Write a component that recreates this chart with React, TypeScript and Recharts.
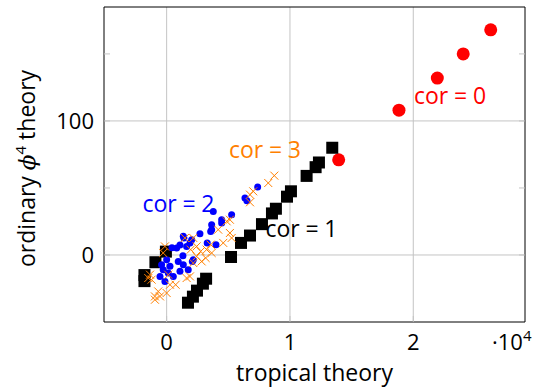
import { CartesianGrid, ReferenceDot, Scatter, ScatterChart, XAxis, YAxis } from "recharts";

const FONT = "'Open Sans', sans-serif";

// cor = 0 (red circles)
const cor0 = [
  { x: 13950, y: 71 },
  { x: 18840, y: 108 },
  { x: 21950, y: 132 },
  { x: 24050, y: 150 },
  { x: 26280, y: 168 },
];

// cor = 1 (black squares)
const cor1 = [
  { x: 13430, y: 80 },
  { x: 12350, y: 69 },
  { x: 12080, y: 65.5 },
  { x: 11350, y: 59 },
  { x: 10080, y: 47.5 },
  { x: 9760, y: 43.5 },
  { x: 8860, y: 34.5 },
  { x: 8540, y: 31 },
  { x: 7730, y: 23 },
  { x: 6760, y: 14.5 },
  { x: 6030, y: 9 },
  { x: 5220, y: -1.5 },
  { x: -60, y: 2.5 },
  { x: -910, y: -5.4 },
  { x: -1800, y: -15 },
  { x: -1800, y: -19.5 },
  { x: 3200, y: -17.7 },
  { x: 2940, y: -21.4 },
  { x: 2460, y: -26.6 },
  { x: 2130, y: -31.1 },
  { x: 1730, y: -35.6 },
];

// cor = 2 (blue dots)
const cor2 = [
  { x: 7380, y: 50.7 },
  { x: 6350, y: 42.5 },
  { x: 6510, y: 40.5 },
  { x: 3780, y: 32.5 },
  { x: 5270, y: 30.1 },
  { x: 4460, y: 26.3 },
  { x: 4460, y: 23.9 },
  { x: 3650, y: 22.6 },
  { x: 3650, y: 18.9 },
  { x: 2700, y: 15.9 },
  { x: 2030, y: 11.4 },
  { x: 3290, y: 9 },
  { x: 4000, y: 7.7 },
  { x: 1350, y: 13.9 },
  { x: 3570, y: 17.6 },
  { x: 1890, y: 9 },
  { x: 810, y: 5.2 },
  { x: 940, y: -4.8 },
  { x: 0, y: -3.5 },
  { x: -410, y: -7.2 },
  { x: -280, y: -11 },
  { x: 130, y: -13.4 },
  { x: 540, y: -16 },
  { x: 1080, y: -12.2 },
  { x: 1350, y: -7.2 },
  { x: 270, y: -8.5 },
  { x: -540, y: -16 },
  { x: -140, y: -19.7 },
  { x: 1750, y: -11 },
  { x: 2160, y: -3.5 },
  { x: 1400, y: 12.7 },
  { x: 2080, y: -4.8 },
  { x: 430, y: 5.4 },
  { x: 1080, y: 7.5 },
  { x: 1620, y: 6.4 },
  { x: 1320, y: -0.5 },
];

// cor = 3 (orange crosses)
const cor3 = [
  { x: 8730, y: 59.2 },
  { x: 8240, y: 53.7 },
  { x: 7020, y: 47.5 },
  { x: 6760, y: 45 },
  { x: 6760, y: 39.3 },
  { x: 5130, y: 26.3 },
  { x: 4870, y: 25.1 },
  { x: 4180, y: 18.9 },
  { x: 5130, y: 16.4 },
  { x: 5270, y: 12.7 },
  { x: 2160, y: 12.7 },
  { x: 1480, y: 12.7 },
  { x: 2430, y: 6.4 },
  { x: 4590, y: 9 },
  { x: 3240, y: 4 },
  { x: 3650, y: 1.5 },
  { x: 2430, y: -1 },
  { x: 2840, y: -4.8 },
  { x: 2160, y: -6 },
  { x: -140, y: 6.4 },
  { x: -280, y: 1.5 },
  { x: -1350, y: -14.7 },
  { x: -1220, y: -18.4 },
  { x: -1490, y: -17.2 },
  { x: 130, y: -14.7 },
  { x: 1890, y: -16 },
  { x: 1620, y: -17.2 },
  { x: 270, y: -22.2 },
  { x: -680, y: -27.2 },
  { x: 0, y: -28.4 },
  { x: -950, y: -30.9 },
  { x: -540, y: -30.9 },
  { x: -950, y: -33.4 },
  { x: 3570, y: 7.7 },
  { x: 2760, y: 2.7 },
  { x: 1950, y: 4 },
  { x: 3160, y: -2.2 },
  { x: 730, y: -22.2 },
];

const seriesLabels = [
  { text: "cor\u2005=\u20050", x: 22980, y: 118.9, color: "#ff0000" },
  { text: "cor\u2005=\u20051", x: 10930, y: 19.3, color: "#000000" },
  { text: "cor\u2005=\u20052", x: 960, y: 38.3, color: "#0000ff" },
  { text: "cor\u2005=\u20053", x: 7970, y: 78.6, color: "#ff8000" },
];

const xTicks = [0, 10000, 20000];
const yTicks = [0, 50, 100, 150];
const yLabelled = [0, 100];
const xDomain = [-5080, 29060];
const yDomain = [-50, 185];

const GRID = "#c4c4c4";

const redDot = (p: any) => <circle cx={p.cx} cy={p.cy} r={6.5} fill="#ff0000" />;
const blackSquare = (p: any) => <rect x={p.cx - 6} y={p.cy - 6} width={12} height={12} fill="#000" />;
const blueDot = (p: any) => <circle cx={p.cx} cy={p.cy} r={3.5} fill="#0000ff" />;
const orangeCross = (p: any) => (
  <path
    d={`M${p.cx - 4},${p.cy - 4}L${p.cx + 4},${p.cy + 4}M${p.cx - 4},${p.cy + 4}L${p.cx + 4},${p.cy - 4}`}
    stroke="#ff8000"
    strokeWidth={1}
    fill="none"
  />
);

function XTick({ x, y, payload }: any) {
  return (
    <g>
      <line x1={x} x2={x} y1={y} y2={y - 6} stroke={GRID} />
      <text x={x} y={y + 28} textAnchor="middle" fontSize={22} fontFamily={FONT} fill="#000">
        {payload.value / 10000}
      </text>
    </g>
  );
}

function YTick({ x, y, payload }: any) {
  return (
    <g>
      <line x1={x} x2={x + 6} y1={y} y2={y} stroke={GRID} />
      {yLabelled.includes(payload.value) && (
        <text x={x - 10} y={y} dy="0.36em" textAnchor="end" fontSize={22} fontFamily={FONT} fill="#000">
          {payload.value}
        </text>
      )}
    </g>
  );
}

function RightTick({ x, y }: any) {
  return <line x1={x - 6} x2={x} y1={y} y2={y} stroke={GRID} />;
}

function XLabel({ viewBox }: any) {
  const { x, y, width } = viewBox;
  return (
    <g fontFamily={FONT} fill="#000">
      <text x={x + width / 2} y={y + 59} textAnchor="middle" fontSize={23}>
        tropical theory
      </text>
      <text x={x + width - 33} y={y + 28} fontSize={22}>
        ·10
        <tspan dy={-9} fontSize={15}>
          4
        </tspan>
      </text>
    </g>
  );
}

function YLabel({ viewBox }: any) {
  const { x, y, height } = viewBox;
  const cx = x + 27;
  const cy = y + height / 2 + 4;
  return (
    <text
      x={cx}
      y={cy}
      dy="0.36em"
      transform={`rotate(-90 ${cx} ${cy})`}
      textAnchor="middle"
      fontSize={23}
      fontFamily={FONT}
      fill="#000"
    >
      ordinary{" "}
      <tspan fontStyle="italic" fontFamily="'DejaVu Serif', serif">
        ϕ
      </tspan>
      <tspan dy={-9} fontSize={15}>
        4
      </tspan>
      <tspan dy={9}> theory</tspan>
    </text>
  );
}

export default function App() {
  return (
    <div style={{ position: "absolute", left: 0, top: 0, background: "#fff" }}>
      <ScatterChart width={539} height={389} margin={{ top: 0, right: 0, left: 0, bottom: 0 }}>
        <CartesianGrid stroke={GRID} horizontalValues={[0, 100]} verticalValues={xTicks} />
        <XAxis
          type="number"
          dataKey="x"
          domain={xDomain}
          ticks={xTicks}
          allowDataOverflow
          height={67}
          tickSize={0}
          tickMargin={0}
          tickLine={false}
          tick={<XTick />}
          axisLine={{ stroke: "#000" }}
          label={<XLabel />}
        />
        <XAxis
          xAxisId="top"
          orientation="top"
          type="number"
          domain={xDomain}
          ticks={xTicks}
          allowDataOverflow
          height={7}
          tick={false}
          tickLine={false}
          axisLine={{ stroke: "#000" }}
        />
        <YAxis
          type="number"
          dataKey="y"
          domain={yDomain}
          ticks={yTicks}
          allowDataOverflow
          width={104}
          tickSize={0}
          tickMargin={0}
          tickLine={false}
          tick={<YTick />}
          axisLine={{ stroke: "#000" }}
          label={<YLabel />}
        />
        <YAxis
          yAxisId="right"
          orientation="right"
          type="number"
          domain={yDomain}
          ticks={yTicks}
          allowDataOverflow
          width={14}
          tickSize={0}
          tickMargin={0}
          tickLine={false}
          tick={<RightTick />}
          axisLine={{ stroke: "#000" }}
        />
        <Scatter data={cor0} shape={redDot} isAnimationActive={false} />
        <Scatter data={cor1} shape={blackSquare} isAnimationActive={false} />
        <Scatter data={cor2} shape={blueDot} isAnimationActive={false} />
        <Scatter data={cor3} shape={orangeCross} isAnimationActive={false} />
        {seriesLabels.map((l) => (
          <ReferenceDot
            key={l.text}
            x={l.x}
            y={l.y}
            r={1}
            fill="none"
            stroke="none"
            label={{ value: l.text, position: "center", fill: l.color, fontSize: 23, fontFamily: FONT }}
          />
        ))}
      </ScatterChart>
    </div>
  );
}
